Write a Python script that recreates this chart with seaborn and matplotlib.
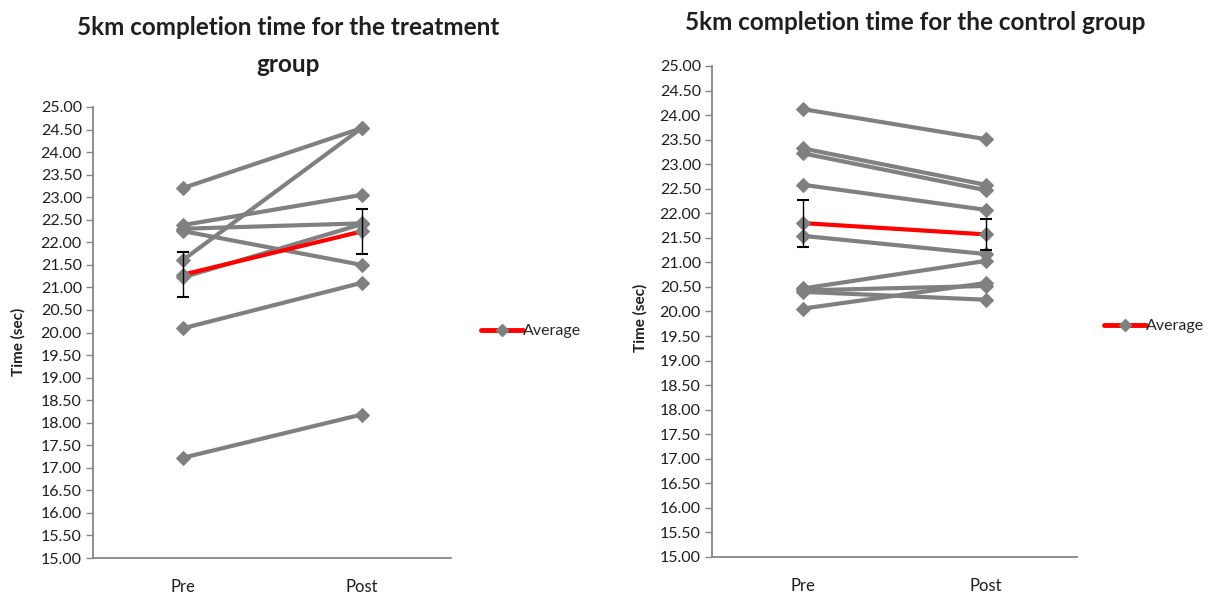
import numpy as np
import pandas as pd
import matplotlib
matplotlib.use("Agg")
import matplotlib.pyplot as plt
import seaborn as sns
from matplotlib.lines import Line2D

# ---------------- data ----------------
phases = ["Pre", "Post"]

treat_pre = [23.20, 21.60, 22.38, 22.25, 22.30, 21.22, 20.09, 17.22]
treat_post = [24.53, 24.53, 23.05, 21.50, 22.42, 22.40, 21.10, 18.18]
treat_avg = [21.28, 22.24]
treat_err = [0.50, 0.50]

ctrl_pre = [24.12, 23.32, 23.22, 22.58, 21.54, 20.47, 20.43, 20.40, 20.06]
ctrl_post = [23.51, 22.58, 22.47, 22.07, 21.17, 21.03, 20.52, 20.24, 20.58]
ctrl_avg = [21.80, 21.57]
ctrl_err = [0.48, 0.32]

titles = ["5km completion time for the treatment\ngroup",
          "5km completion time for the control group"]
ylabel = "Time (sec)"
legend_label = "Average"
yticks = np.arange(15.0, 25.01, 0.5)

GRAY = "#808080"
RED = "#FF0000"
FONT = "Lato"

sns.set_style("white")
plt.rcParams["font.family"] = [FONT, "DejaVu Sans"]

fig = plt.figure(figsize=(12.16, 6.01), dpi=100)
ax1 = fig.add_axes([93 / 1216, 1 - 558 / 601, 358 / 1216, 451 / 601])
ax2 = fig.add_axes([712 / 1216, 1 - 557 / 601, 365 / 1216, 491 / 601])


def long_df(pre, post):
    rows = []
    for i, (a, b) in enumerate(zip(pre, post)):
        rows.append({"subject": i, "phase": phases[0], "x": 0, "value": a})
        rows.append({"subject": i, "phase": phases[1], "x": 1, "value": b})
    return pd.DataFrame(rows)


def draw(ax, pre, post, avg, err, title, title_xy, ylab_xy, leg_xy):
    df = long_df(pre, post)
    sns.lineplot(data=df, x="x", y="value", units="subject", estimator=None,
                 color=GRAY, lw=3.0, marker="D", markersize=7.5,
                 markeredgecolor=GRAY, markerfacecolor=GRAY, ax=ax,
                 legend=False, zorder=2)
    adf = pd.DataFrame({"x": [0, 1], "value": avg})
    sns.lineplot(data=adf, x="x", y="value", color=RED, lw=3.0, marker="D",
                 markersize=7.5, markeredgecolor=GRAY, markerfacecolor=GRAY,
                 ax=ax, legend=False, zorder=3)
    ax.errorbar([0, 1], avg, yerr=err, fmt="none", ecolor="black",
                elinewidth=1.0, capsize=4, capthick=1.5, zorder=4)

    ax.set_xlim(-0.5, 1.5)
    ax.set_ylim(15, 25)
    ax.set_yticks(yticks)
    ax.set_yticklabels([f"{v:.2f}" for v in yticks])
    ax.set_xticks([-0.5, 0.5, 1.5])
    ax.set_xticklabels([])
    ax.set_xticks([0, 1], minor=True)
    ax.set_xticklabels(phases, minor=True)
    ax.tick_params(axis="x", which="minor", length=0, pad=15,
                   labelsize=12, labelcolor="#1f1f1f")
    ax.tick_params(axis="x", which="major", direction="out", length=5,
                   width=1, color="#868686")
    ax.tick_params(axis="y", direction="out", length=5, width=1,
                   color="#868686", labelsize=11.5, labelcolor="#1f1f1f",
                   pad=3, left=True)
    for s in ["top", "right"]:
        ax.spines[s].set_visible(False)
    for s in ["left", "bottom"]:
        ax.spines[s].set_color("#868686")
        ax.spines[s].set_linewidth(1.3)
    ax.set_xlabel("")
    ax.set_ylabel("")
    fig.text(ylab_xy[0] / 1216, 1 - ylab_xy[1] / 601,
             ylabel, rotation=90, ha="center", va="center",
             fontsize=11, fontweight="bold", color="#1f1f1f")
    fig.text(title_xy[0] / 1216, 1 - title_xy[1] / 601, title,
             ha="center", va="top", fontsize=17.5, fontweight="bold",
             color="#1f1f1f", linespacing=1.75)
    handle = Line2D([0], [0], color=RED, lw=3.5, marker="D", markersize=6,
                    markerfacecolor=GRAY, markeredgecolor=GRAY)
    fig.legend([handle], [legend_label], loc="center left",
               bbox_to_anchor=(leg_xy[0] / 1216, 1 - leg_xy[1] / 601),
               frameon=False, handlelength=2.6, handletextpad=0.0,
               fontsize=11.5, borderaxespad=0, borderpad=0)


draw(ax1, treat_pre, treat_post, treat_avg, treat_err, titles[0],
     (288, 16), (18, 342), (481, 331))
draw(ax2, ctrl_pre, ctrl_post, ctrl_avg, ctrl_err, titles[1],
     (915, 11), (640, 318), (1104, 326))

fig.savefig("out.png", dpi=100)
